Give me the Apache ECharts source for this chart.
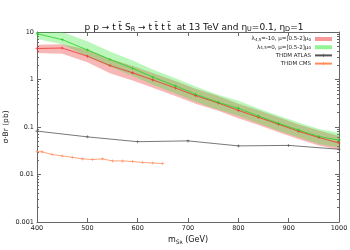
<!DOCTYPE html>
<html><head><meta charset="utf-8">
<script src="https://cdn.jsdelivr.net/npm/echarts@6/dist/echarts.min.js"></script>
<style>html,body{margin:0;padding:0;background:#fff}#c{width:350px;height:250px}</style>
</head><body><div id="c"></div>
<script>
// masses of the scan points (GeV)
const massScan = [400, 450, 500, 545, 590, 630, 675, 715, 760, 800, 840, 880, 920, 960, 1000];
// lambda45 = -10 (red)
const redCentral = [4.5, 4.6, 3.1, 1.97, 1.38, 0.98, 0.664, 0.457, 0.32, 0.224, 0.16, 0.114, 0.081, 0.060, 0.046];
const redUpper   = [5.4, 5.5, 4.3, 2.75, 1.93, 1.37, 0.93, 0.64, 0.45, 0.31, 0.225, 0.16, 0.113, 0.084, 0.065];
const redLower   = [3.6, 3.5, 2.3, 1.36, 0.95, 0.67, 0.45, 0.31, 0.22, 0.153, 0.11, 0.078, 0.055, 0.041, 0.033];
// lambda45 = 0 (green)
const greenCentral = [9.2, 6.9, 4.2, 2.64, 1.72, 1.12, 0.733, 0.489, 0.331, 0.247, 0.170, 0.119, 0.086, 0.063, 0.053];
const greenUpper   = [10, 10, 6.4, 3.9, 2.5, 1.62, 1.06, 0.71, 0.48, 0.355, 0.245, 0.172, 0.125, 0.091, 0.076];
const greenLower   = [7.1, 5.5, 3.0, 1.85, 1.2, 0.78, 0.51, 0.34, 0.23, 0.172, 0.119, 0.083, 0.060, 0.044, 0.037];
// THDM ATLAS limit
const atlasMass = [400, 500, 600, 700, 800, 900, 1000];
const atlasVal  = [0.082, 0.062, 0.049, 0.051, 0.040, 0.041, 0.034];
// THDM CMS limit
const cmsMass = [400, 410, 430, 450, 470, 490, 510, 530, 550, 570, 590, 610, 630, 650];
const cmsVal  = [0.0305, 0.0300, 0.0264, 0.0246, 0.0231, 0.0213, 0.0207, 0.0213, 0.0193, 0.0193, 0.0188, 0.0179, 0.0175, 0.0170];
// axis ticks
const xTicks = [400, 500, 600, 700, 800, 900, 1000];
const yMajor = [0.001, 0.01, 0.1, 1, 10];
const yLabels = ['0.001', '0.01', '0.1', '1', '10'];
const yMinor = [];
[0.001, 0.01, 0.1, 1].forEach(d => { for (let k = 2; k <= 9; k++) yMinor.push(+(d * k).toPrecision(3)); });

const names = {
  red: 'lam-10', green: 'lam0', atlas: 'THDM ATLAS', cms: 'THDM CMS'
};
const legendText = {
  'lam-10': 'λ{sub|4,5}=-10, μ=[0.5-2]μ{sub|0}',
  'lam0': 'λ{sub|4,5}=0, μ=[0.5-2]μ{sub|0}',
  'THDM ATLAS': 'THDM ATLAS',
  'THDM CMS': 'THDM CMS'
};
const plus = 'path://M4,0H6V4H10V6H6V10H4V6H0V4H4Z';

function band(upper, lower, fill) {
  return {
    type: 'custom', coordinateSystem: 'cartesian2d', silent: true, clip: true, z: 1,
    data: [0],
    renderItem: function (params, api) {
      const pts = [];
      for (let i = 0; i < massScan.length; i++) pts.push(api.coord([massScan[i], upper[i]]));
      for (let i = massScan.length - 1; i >= 0; i--) pts.push(api.coord([massScan[i], lower[i]]));
      return { type: 'polygon', shape: { points: pts }, style: { fill: fill, stroke: null } };
    }
  };
}
function zip(a, b) { return a.map((v, i) => [v, b[i]]); }

const chart = echarts.init(document.getElementById('c'), null, { renderer: 'canvas' });
const axisLineStyle = { color: '#666', width: 1 };
const labelFont = { fontFamily: 'DejaVu Sans', fontSize: 6.5, color: '#222' };
chart.setOption({
  animation: false,
  backgroundColor: '#fff',
  title: {
    text: 'p p → t t̄ S{sub|R} → t t̄ t t̄  at 13 TeV and η{sub|U}=0.1, η{sub|D}=1',
    left: 189, top: 17, textAlign: 'center',
    textStyle: {
      fontFamily: 'DejaVu Sans', fontSize: 9, fontWeight: 'normal', color: '#111',
      rich: { sub: { fontSize: 6.5, verticalAlign: 'bottom', padding: [4, 0, 0, 0], fontFamily: 'DejaVu Sans', color: '#111' } }
    }
  },
  grid: { left: 37, right: 11, top: 32, bottom: 28, containLabel: false, outerBoundsMode: 'none' },
  legend: {
    orient: 'vertical', right: 17, top: 36, align: 'right',
    itemWidth: 17, itemHeight: 4, itemGap: 2.2, padding: 0,
    data: [
      { name: names.red, icon: 'rect', itemStyle: { color: 'rgba(240,70,70,0.55)' } },
      { name: names.green, icon: 'rect', itemStyle: { color: 'rgba(60,235,60,0.55)' } },
      { name: names.atlas },
      { name: names.cms }
    ],
    formatter: n => legendText[n],
    textStyle: {
      fontFamily: 'DejaVu Sans', fontSize: 5.5, color: '#222', padding: [0, -1, 0, 0],
      rich: { sub: { fontSize: 4, verticalAlign: 'bottom', fontFamily: 'DejaVu Sans', color: '#222' } }
    }
  },
  xAxis: [
    {
      type: 'value', min: 400, max: 1000, interval: 100, position: 'bottom',
      name: 'm{sub|S}{subsub|R} (GeV)', nameLocation: 'middle', nameGap: 13, nameMoveOverlap: false,
      nameTextStyle: {
        fontFamily: 'DejaVu Sans', fontSize: 8, color: '#111',
        rich: {
          sub: { fontSize: 6, verticalAlign: 'bottom', padding: [3, 0, 0, 0], fontFamily: 'DejaVu Sans', color: '#111' },
          subsub: { fontSize: 4.5, verticalAlign: 'bottom', padding: [5, 0, 0, 0], fontFamily: 'DejaVu Sans', color: '#111' }
        }
      },
      axisLine: { show: true, lineStyle: axisLineStyle },
      axisTick: { show: true, inside: true, length: 4, lineStyle: axisLineStyle, customValues: xTicks },
      axisLabel: Object.assign({ margin: 3, customValues: xTicks, formatter: v => String(v) }, labelFont),
      splitLine: { show: false }
    },
    {
      type: 'value', min: 400, max: 1000, interval: 100, position: 'top',
      axisLine: { show: true, lineStyle: axisLineStyle },
      axisTick: { show: true, inside: true, length: 4, lineStyle: axisLineStyle, customValues: xTicks },
      axisLabel: { show: false }, splitLine: { show: false }
    }
  ],
  yAxis: [
    {
      type: 'log', min: 0.001, max: 10, logBase: 10, position: 'left',
      name: 'σ·Br (pb)', nameLocation: 'middle', nameGap: 27, nameRotate: 90, nameMoveOverlap: false,
      nameTextStyle: { fontFamily: 'DejaVu Sans', fontSize: 7.5, color: '#111' },
      axisLine: { show: true, lineStyle: axisLineStyle },
      axisTick: { show: true, inside: true, length: 4, lineStyle: axisLineStyle, customValues: yMajor },
      axisLabel: Object.assign({ margin: 3, customValues: yMajor, formatter: v => yLabels[yMajor.findIndex(t => Math.abs(t - v) / t < 1e-6)] || '' }, labelFont),
      splitLine: { show: false }
    },
    {
      type: 'log', min: 0.001, max: 10, logBase: 10, position: 'left',
      axisLine: { show: false },
      axisTick: { show: true, inside: true, length: 2, lineStyle: axisLineStyle, customValues: yMinor },
      axisLabel: { show: false }, splitLine: { show: false }
    },
    {
      type: 'log', min: 0.001, max: 10, logBase: 10, position: 'right',
      axisLine: { show: true, lineStyle: axisLineStyle },
      axisTick: { show: true, inside: true, length: 4, lineStyle: axisLineStyle, customValues: yMajor },
      axisLabel: { show: false }, splitLine: { show: false }
    },
    {
      type: 'log', min: 0.001, max: 10, logBase: 10, position: 'right',
      axisLine: { show: false },
      axisTick: { show: true, inside: true, length: 2, lineStyle: axisLineStyle, customValues: yMinor },
      axisLabel: { show: false }, splitLine: { show: false }
    }
  ],
  series: [
    band(redUpper, redLower, 'rgba(235,50,50,0.35)'),
    band(greenUpper, greenLower, 'rgba(50,230,50,0.33)'),
    {
      name: names.red, type: 'line', data: zip(massScan, redCentral), z: 3,
      lineStyle: { color: '#f03030', width: 0.8 }, itemStyle: { color: '#f03030' },
      symbol: plus, symbolSize: 3, showSymbol: true
    },
    {
      name: names.green, type: 'line', data: zip(massScan, greenCentral), z: 3,
      lineStyle: { color: '#22d022', width: 0.8 }, itemStyle: { color: '#22d022' },
      symbol: plus, symbolSize: 3, showSymbol: true
    },
    {
      name: names.atlas, type: 'line', data: zip(atlasMass, atlasVal), z: 3,
      lineStyle: { color: '#555', width: 0.8 }, itemStyle: { color: '#555' },
      symbol: plus, symbolSize: 3, showSymbol: true
    },
    {
      name: names.cms, type: 'line', data: zip(cmsMass, cmsVal), z: 3,
      lineStyle: { color: '#ff8c5a', width: 0.8 }, itemStyle: { color: '#ff8c5a' },
      symbol: plus, symbolSize: 3, showSymbol: true
    }
  ]
});
</script>
</body></html>
